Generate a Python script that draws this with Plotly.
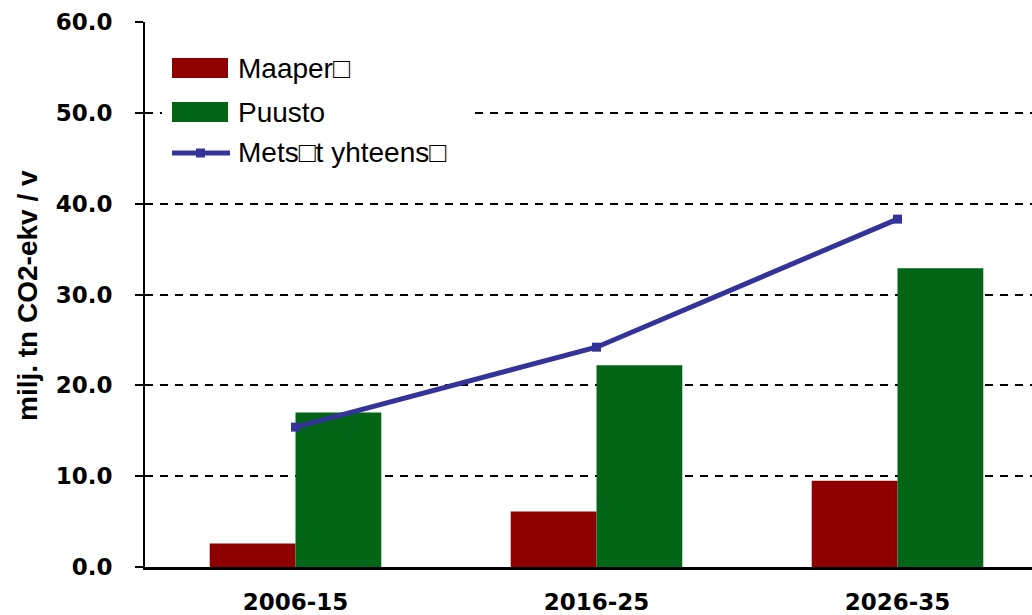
import plotly.graph_objects as go

# Data
categories = ["2006-15", "2016-25", "2026-35"]
maapera = [2.6, 6.1, 9.5]
puusto = [17.0, 22.2, 32.9]
metsat_yhteensa = [15.4, 24.2, 38.3]
series_names = ["Maaper\u25a1", "Puusto", "Mets\u25a1t yhteens\u25a1"]
y_title = "milj. tn CO2-ekv / v"

RED = "#8E0000"
GREEN = "#036616"
BLUE = "#333399"

W, H = 1032, 615
L, R, T, B = 145, 0, 22, 48
PW, PH = W - L - R, H - T - B

x_pos = list(range(len(categories)))


def px(xp):
    return (xp - L) / PW


def py(yp):
    return (H - B - yp) / PH


fig = go.Figure()
fig.add_trace(go.Bar(x=x_pos, y=maapera, name=series_names[0],
                     marker=dict(color=RED, line=dict(width=0)), showlegend=False))
fig.add_trace(go.Bar(x=x_pos, y=puusto, name=series_names[1],
                     marker=dict(color=GREEN, line=dict(width=0)), showlegend=False))
fig.add_trace(go.Scatter(x=x_pos, y=metsat_yhteensa, name=series_names[2],
                         mode="lines+markers",
                         line=dict(color=BLUE, width=5),
                         marker=dict(symbol="square", size=9, color=BLUE),
                         showlegend=False, cliponaxis=False))

tick_font = dict(family="DejaVu Sans", size=23, color="black", weight="bold")

fig.update_layout(
    width=W, height=H,
    margin=dict(l=L, r=R, t=T, b=B, pad=0, autoexpand=False),
    paper_bgcolor="white", plot_bgcolor="white",
    barmode="group", bargap=0.43, bargroupgap=0,
    xaxis=dict(
        range=[-0.5, -0.5 + PW / 301.0],
        tickmode="array", tickvals=x_pos, ticktext=categories,
        tickfont=dict(family="DejaVu Sans", size=23, color="black", weight="bold"),
        ticks="outside", ticklen=12, tickcolor="rgba(0,0,0,0)",
        showline=True, linecolor="black", linewidth=3,
        showgrid=False, zeroline=False, fixedrange=True, automargin=False,
    ),
    yaxis=dict(
        range=[0, 60], dtick=10, tickformat=".1f",
        tickfont=tick_font,
        ticks="outside", ticklen=8, tickwidth=2, tickcolor="black",
        ticklabelstandoff=18,
        showline=True, linecolor="black", linewidth=2,
        showgrid=True, gridcolor="black", gridwidth=2, griddash="8px,7px",
        zeroline=False, fixedrange=True, automargin=False,
    ),
)

# Axis title
fig.add_annotation(text=y_title, textangle=-90, showarrow=False,
                   xref="paper", yref="paper", x=px(28), y=py(296),
                   xanchor="center", yanchor="middle",
                   font=dict(family="Liberation Sans", size=28, color="black", weight="bold"))

# Legend box
shapes = [
    dict(type="rect", xref="paper", yref="paper", x0=px(162), x1=px(473), y0=py(180), y1=py(38),
         fillcolor="white", line=dict(width=0), layer="above"),
    dict(type="rect", xref="paper", yref="paper", x0=px(172), x1=px(228), y0=py(78), y1=py(58),
         fillcolor=RED, line=dict(width=0), layer="above"),
    dict(type="rect", xref="paper", yref="paper", x0=px(172), x1=px(228), y0=py(122), y1=py(102),
         fillcolor=GREEN, line=dict(width=0), layer="above"),
    dict(type="line", xref="paper", yref="paper", x0=px(172), x1=px(230), y0=py(153), y1=py(153),
         line=dict(color=BLUE, width=5), layer="above"),
    dict(type="rect", xref="paper", yref="paper", x0=px(196), x1=px(205), y0=py(157.5), y1=py(148.5),
         fillcolor=BLUE, line=dict(width=0), layer="above"),
]
for s in shapes:
    fig.add_shape(**s)

for name, yc in zip(series_names, [68, 112, 153]):
    fig.add_annotation(text=name, showarrow=False, xref="paper", yref="paper",
                       x=px(236), y=py(yc), xanchor="left", yanchor="middle",
                       font=dict(family="Liberation Sans", size=28, color="black"))

fig.write_html("out.html", config={"displayModeBar": False})
